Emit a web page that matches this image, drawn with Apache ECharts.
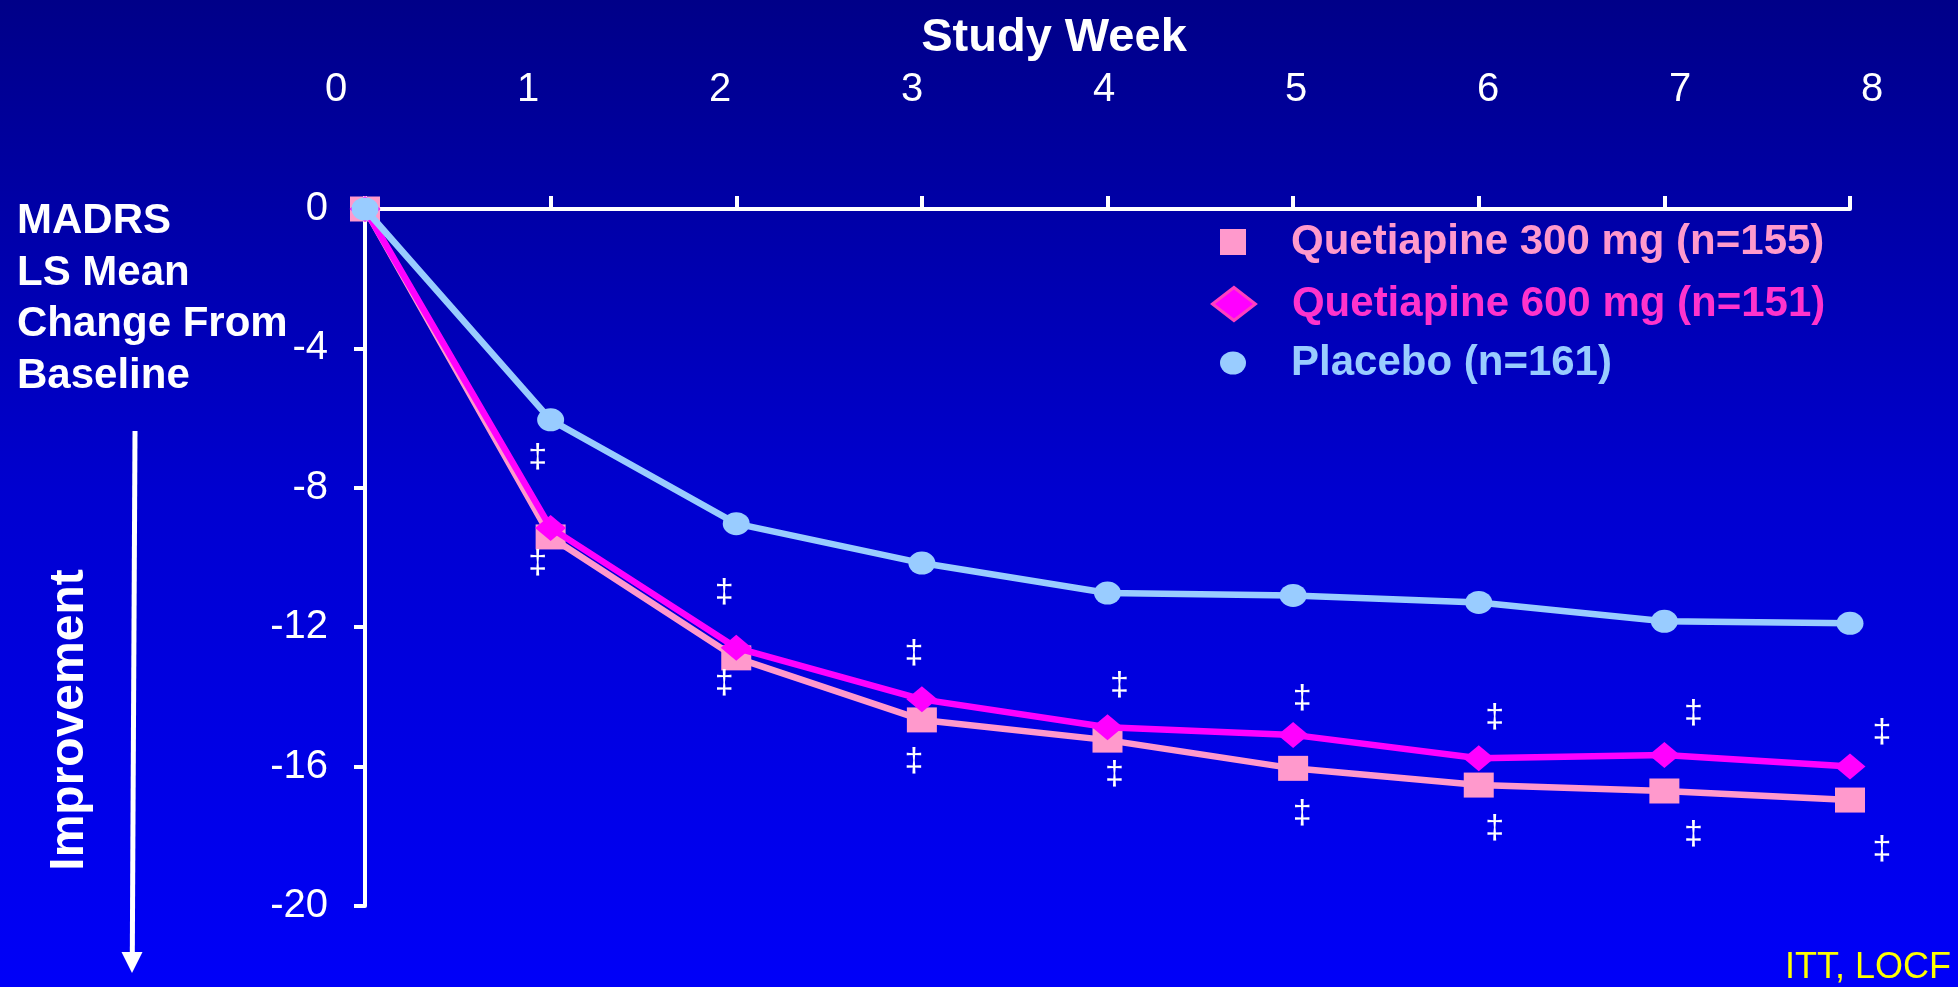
<!DOCTYPE html>
<html>
<head>
<meta charset="utf-8">
<title>MADRS LS Mean Change From Baseline</title>
<script src="https://cdn.jsdelivr.net/npm/echarts@6/dist/echarts.min.js"></script>
<style>
  html, body { margin: 0; padding: 0; background: #0000c0; }
  #chart { width: 1958px; height: 987px; }
</style>
</head>
<body>
<div id="chart"></div>
<script>
// ---- data ----
const weeks = [0, 1, 2, 3, 4, 5, 6, 7, 8];
const weekLabels = ['0', '1', '2', '3', '4', '5', '6', '7', '8'];
const seriesNames = ['Quetiapine 300 mg (n=155)', 'Quetiapine 600 mg (n=151)', 'Placebo (n=161)'];
const quetiapine300 = [0, -9.41, -12.88, -14.66, -15.24, -16.05, -16.53, -16.70, -16.96];
const quetiapine600 = [0, -9.15, -12.59, -14.07, -14.87, -15.09, -15.76, -15.67, -16.00];
const placebo = [0, -6.05, -9.03, -10.16, -11.02, -11.09, -11.29, -11.83, -11.89];
// significance vs placebo (‡) for each week
const sig300 = [false, true, true, true, true, true, true, true, true];
const sig600 = [false, true, true, true, true, true, true, true, true];
const sigSymbol = '‡';
const yMin = -20, yMax = 0, yStep = 4;

// ---- styling ----
const FONT = "'Liberation Sans', Arial, sans-serif";
const C300 = '#FF99CC', C600 = '#FF00FF', CPBO = '#99CCFF';
// pixel offsets of the ‡ marks from their points
const sigOffset600 = [null, [-13, -70], [-12, -55], [-8, -46], [12, -42], [9, -36], [16, -41], [29, -41], [32, -34]];
const sigOffset300 = [null, [-13, 27], [-12, 26], [-8, 42], [7, 35], [9, 45], [16, 44], [29, 44], [32, 50]];

function buildData(values, flags, offsets) {
  return weeks.map((w, i) => {
    const item = { value: [w, values[i]] };
    if (flags && flags[i]) {
      item.label = { show: true, offset: offsets[i] };
    }
    return item;
  });
}

const sigLabel = {
  show: false,
  position: 'inside',
  formatter: sigSymbol,
  color: '#FFFFFF',
  fontSize: 34,
  fontFamily: FONT
};

const chart = echarts.init(document.getElementById('chart'), null, { renderer: 'canvas' });

const legendBase = {
  orient: 'vertical',
  padding: 0,
  itemWidth: 106,
  symbolKeepAspect: true,
  selectedMode: false,
  textStyle: { fontSize: 42, fontWeight: 'bold', fontFamily: FONT }
};

const option = {
  animation: false,
  backgroundColor: {
    type: 'linear', x: 0, y: 0, x2: 0, y2: 1,
    colorStops: [
      { offset: 0, color: '#000088' },
      { offset: 0.5, color: '#0000D0' },
      { offset: 1, color: '#0000F8' }
    ]
  },
  textStyle: { fontFamily: FONT },
  grid: [
    { left: 365, right: 108, top: 209, height: 697, containLabel: false },
    { left: 336, right: 86, top: 135, height: 10, containLabel: false }
  ],
  xAxis: [
    {
      gridIndex: 0, type: 'value', position: 'top', min: 0, max: 8, interval: 1,
      axisLine: { show: true, lineStyle: { color: '#FFFFFF', width: 4 } },
      axisTick: { show: true, length: 13, lineStyle: { color: '#FFFFFF', width: 4 } },
      axisLabel: { show: false },
      splitLine: { show: false }
    },
    {
      gridIndex: 1, type: 'value', position: 'top', min: 0, max: 8, interval: 1,
      axisLine: { show: false },
      axisTick: { show: false },
      splitLine: { show: false },
      axisLabel: {
        show: true, margin: 25, color: '#FFFFFF', fontSize: 40, fontFamily: FONT,
        formatter: v => weekLabels[v]
      }
    }
  ],
  yAxis: [
    {
      gridIndex: 0, type: 'value', min: yMin, max: yMax, interval: yStep,
      axisLine: { show: true, lineStyle: { color: '#FFFFFF', width: 4 } },
      axisTick: { show: true, length: 11, lineStyle: { color: '#FFFFFF', width: 4 } },
      axisLabel: { show: true, margin: 37, color: '#FFFFFF', fontSize: 40, fontFamily: FONT },
      splitLine: { show: false }
    },
    { gridIndex: 1, type: 'value', show: false }
  ],
  legend: [
    Object.assign({}, legendBase, {
      left: 1220, top: 221, itemHeight: 26,
      data: [{ name: seriesNames[0], icon: 'path://M0,0H10V10H0Z', textStyle: { color: C300 } }],
      itemStyle: { color: C300, borderWidth: 0 }
    }),
    Object.assign({}, legendBase, {
      left: 1211, top: 283, itemHeight: 33,
      data: [{ name: seriesNames[1], icon: 'path://M0,5L6.5,0L13,5L6.5,10Z', textStyle: { color: '#FF33CC' } }],
      itemStyle: { color: C600, borderColor: '#FF3FC0', borderWidth: 3 }
    }),
    Object.assign({}, legendBase, {
      left: 1220, top: 342, itemHeight: 23,
      data: [{ name: seriesNames[2], icon: 'path://M0,11.5A13,11.5 0 1,1 26,11.5A13,11.5 0 1,1 0,11.5Z', textStyle: { color: CPBO } }],
      itemStyle: { color: CPBO, borderWidth: 0 }
    })
  ],
  series: [
    {
      name: seriesNames[0], type: 'line', xAxisIndex: 0, yAxisIndex: 0,
      data: buildData(quetiapine300, sig300, sigOffset300),
      symbol: 'rect', symbolSize: [30, 25],
      lineStyle: { color: C300, width: 6.5 },
      itemStyle: { color: C300 },
      label: sigLabel,
      z: 2
    },
    {
      name: seriesNames[1], type: 'line', xAxisIndex: 0, yAxisIndex: 0,
      data: buildData(quetiapine600, sig600, sigOffset600),
      symbol: 'diamond', symbolSize: [31, 26],
      lineStyle: { color: C600, width: 6.5 },
      itemStyle: { color: C600 },
      label: sigLabel,
      z: 3
    },
    {
      name: seriesNames[2], type: 'line', xAxisIndex: 0, yAxisIndex: 0,
      data: buildData(placebo, null, null),
      symbol: 'circle', symbolSize: [27, 23],
      lineStyle: { color: CPBO, width: 6.5 },
      itemStyle: { color: CPBO },
      z: 4
    }
  ],
  graphic: [
    {
      type: 'text', x: 1054, y: 38,
      style: { text: 'Study Week', fill: '#FFFFFF', font: 'bold 47px ' + FONT, align: 'center', verticalAlign: 'middle' }
    },
    {
      type: 'text', x: 17, y: 196,
      style: {
        text: 'MADRS\nLS Mean\nChange From\nBaseline', fill: '#FFFFFF',
        font: 'bold 42px ' + FONT, lineHeight: 51.5, align: 'left', verticalAlign: 'top'
      }
    },
    {
      type: 'text', x: 70, y: 720, rotation: Math.PI / 2,
      style: { text: 'Improvement', fill: '#FFFFFF', font: 'bold 48px ' + FONT, align: 'center', verticalAlign: 'middle' }
    },
    {
      type: 'line', shape: { x1: 135, y1: 431, x2: 132.3, y2: 955 },
      style: { stroke: '#FFFFFF', lineWidth: 5 }
    },
    {
      type: 'polygon', shape: { points: [[121.5, 952], [142.5, 952], [132, 973]] },
      style: { fill: '#FFFFFF' }
    },
    {
      type: 'text', x: 1951, y: 968,
      style: { text: 'ITT, LOCF', fill: '#FFFF00', font: '36px ' + FONT, align: 'right', verticalAlign: 'middle' }
    }
  ]
};

chart.setOption(option);
</script>
</body>
</html>
